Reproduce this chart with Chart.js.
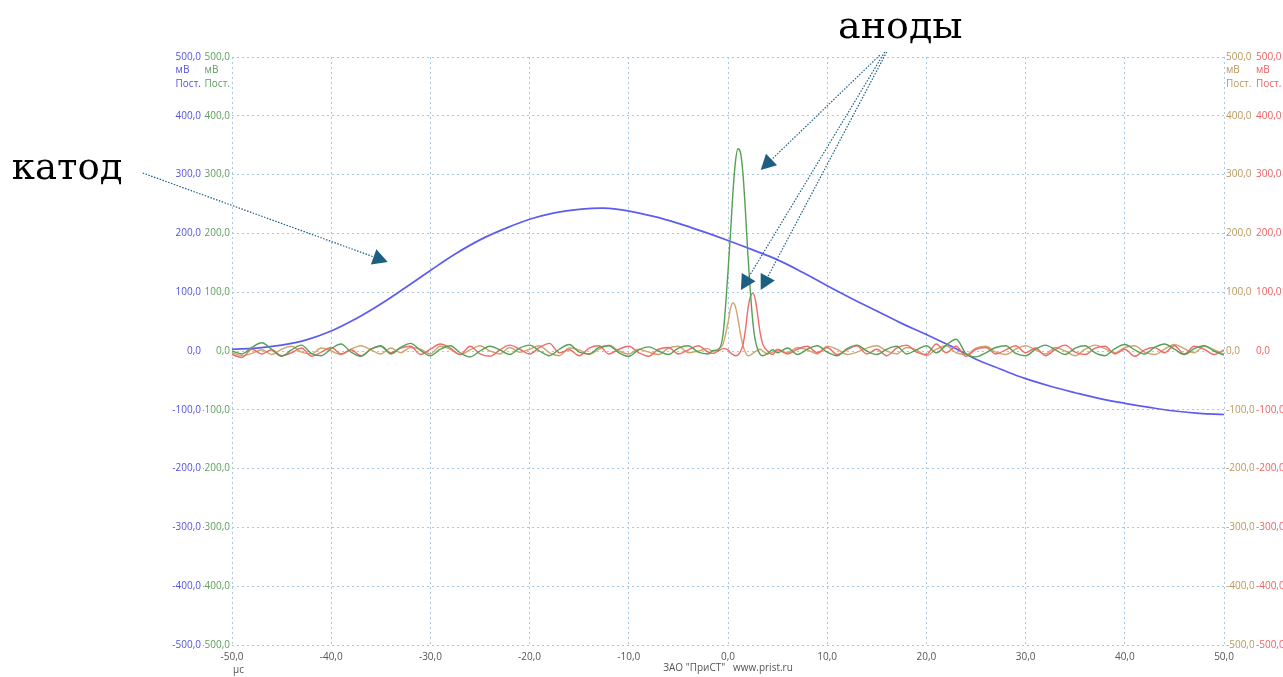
<!DOCTYPE html>
<html>
<head>
<meta charset="utf-8">
<script src="https://cdn.jsdelivr.net/npm/chart.js@4.4.1/dist/chart.umd.min.js"></script>
<style>
  html, body { margin: 0; padding: 0; background: #fff; }
  #wrap { width: 1283px; height: 677px; }
</style>
</head>
<body>
<div id="wrap"><canvas id="scope"></canvas></div>
<script>
// sample times, μs (denser around the anode pulses)
const time = [
  -50, -49, -48, -47, -46, -45, -44, -43, -42, -41,
  -40, -39, -38, -37, -36, -35, -34, -33, -32, -31,
  -30, -29, -28, -27, -26, -25, -24, -23, -22, -21,
  -20, -19, -18, -17, -16, -15, -14, -13, -12, -11,
  -10, -9, -8, -7, -6, -5, -4, -3, -2,
  -1.5, -1, -0.5, 0, 0.25, 0.5, 0.75, 1, 1.25, 1.5, 1.75, 2, 2.25, 2.5, 2.75, 3, 3.25, 3.5, 4, 4.5, 5,
  6, 7, 8, 9, 10, 11, 12, 13, 14, 15,
  16, 17, 18, 19, 20, 21, 22, 23, 24, 25,
  26, 27, 28, 29, 30, 31, 32, 33, 34, 35,
  36, 37, 38, 39, 40, 41, 42, 43, 44, 45,
  46, 47, 48, 49, 50
];

// anode 1 (green, left inner axis), mV
const anodeGreen = [
  0, -5, 6, 14, 3, -9, 2, 10, -4, -8,
  4, 12, -2, -9, 3, 8, -5, 6, 13, 1,
  -8, 3, 9, -3, -10, 0, 8, 2, -6, 5,
  10, 0, -8, 3, 11, -2, -5, 6, 9, -3,
  -9, 2, 7, 0, -6, 5, 9, -2, -5,
  1, 2, 28, 135, 200, 270, 322, 344, 338, 303, 240, 165, 102, 50, 18, 3, -6, -8, -4, 2, -3,
  5, -6, 3, 9, -2, -8, 4, 10, 0, -6,
  3, 8, -5, 2, 9, -3, 10, 20, -5, -10,
  -3, 6, 9, -4, -8, 3, 10, 2, -6, 5,
  9, -3, -8, 4, 11, 2, -5, 6, 12, 3,
  -6, 4, 9, 0, -7
];

// anode 2 (tan, right inner axis), mV
const anodeTan = [
  -3, -8, -4, 2, -6, 3, 8, -2, -5, 5,
  0, -6, 3, 9, 2, -5, 5, -3, 6, 3,
  -5, 8, 3, -6, 2, 9, 0, -5, 6, -2,
  3, 9, -3, -8, 5, 2, -6, 3, 10, 0,
  -5, 3, -2, -6, 5, 8, -3, 0, 4,
  -1, 3, 12, 48, 72, 82, 75, 55, 30, 10, -2, -8, -7, -4, -1, 2, 3, 0, -5, -2, 3,
  -3, 6, 2, -5, 8, 3, -6, -2, 5, 9,
  0, -5, 6, 2, -8, 3, 9, -3, -6, 5,
  8, -2, -6, 3, 9, 2, -5, 6, 0, -8,
  3, 10, 4, -3, 6, 9, -2, -6, 3, 11,
  4, -3, 8, 2, -5
];

// anode 3 (red, right outer axis), mV
const anodeRed = [
  -6, -11, 3, -5, 2, -8, -3, 5, -9, -2,
  6, -5, 2, -8, 3, 9, -3, 5, 8, -6,
  3, 12, 5, -6, 8, -5, -9, 2, 10, 3,
  -5, 6, 13, -3, 2, -8, 5, 9, -5, 3,
  8, -3, -9, 3, 6, -5, 2, 9, -2,
  -4, 0, 4, 2, -3, -6, -8, -7, -1, 10, 35, 70, 92, 98, 88, 60, 30, 12, 0, -6, 2,
  -5, 3, 8, -3, 6, -6, 2, 9, -5, 3,
  -8, 5, 10, -2, -6, 12, -3, 8, -9, 3,
  6, -5, 2, 9, -3, 5, -8, 3, 10, -2,
  -6, 5, 8, -5, 3, -9, 2, 6, -3, 9,
  -5, 8, 3, -6, 2
];

// cathode (blue, left outer axis), sampled every 2.5 μs
const cathodeTime = [
  -50, -47.5, -45, -42.5, -40, -37.5, -35, -32.5, -30, -27.5,
  -25, -22.5, -20, -17.5, -15, -12.5, -10, -7.5, -5, -2.5,
  0, 2.5, 5, 7.5, 10, 12.5, 15, 17.5, 20, 22.5,
  25, 27.5, 30, 32.5, 35, 37.5, 40, 42.5, 45, 47.5, 50
];
const cathode = [
  3, 5, 10, 19, 34, 55, 80, 108, 137, 165,
  189, 208, 224, 235, 241, 243, 238, 229, 217, 203,
  188, 172, 155, 134, 111, 89, 68, 47, 28, 8,
  -14, -31, -47, -60, -71, -81, -89, -96, -102, -106, -108
];

const yTicks = [-500, -400, -300, -200, -100, 0, 100, 200, 300, 400, 500];
const xTicks = [-50, -40, -30, -20, -10, 0, 10, 20, 30, 40, 50];
const unitLines = ['мВ', 'Пост.'];
const timeUnit = 'μс';
const footer = 'ЗАО "ПриСТ"   www.prist.ru';

const FONT = '"Open Sans", "DejaVu Sans", sans-serif';
const GRID = '#a8c8e2';
const DASH = [2, 3];
const colors = {
  blue:  { line: '#5c5cf0', text: '#5252e0' },
  green: { line: '#55a055', text: '#5b9e5b' },
  tan:   { line: '#cfa56e', text: '#b9975c' },
  red:   { line: '#f06a6a', text: '#ee6262' }
};

const fmt = v => Number(v).toFixed(1).replace('.', ',');
const pts = (xs, ys) => xs.map((t, i) => ({ x: t, y: ys[i] }));

function yAxis(key, position, weight, width, showGrid) {
  return {
    type: 'linear',
    position: position,
    weight: weight,
    min: -500,
    max: 500,
    afterBuildTicks: s => { s.ticks = yTicks.map(v => ({ value: v })); },
    afterFit: s => { s.width = width; },
    border: { display: false, dash: DASH },
    grid: {
      display: showGrid,
      drawTicks: false,
      color: GRID,
      lineWidth: 1
    },
    ticks: {
      padding: 2,
      color: colors[key].text,
      font: { family: FONT, size: 10 },
      callback: fmt
    }
  };
}

// dotted arrow with a filled head
function drawArrow(ctx, x0, y0, x1, y1) {
  const dx = x1 - x0, dy = y1 - y0;
  const len = Math.hypot(dx, dy);
  const ux = dx / len, uy = dy / len;
  const head = 15, half = 8;
  const bx = x1 - ux * head, by = y1 - uy * head;
  ctx.setLineDash([1.5, 1.5]);
  ctx.lineWidth = 1.2;
  ctx.beginPath();
  ctx.moveTo(x0, y0);
  ctx.lineTo(bx, by);
  ctx.stroke();
  ctx.setLineDash([]);
  ctx.beginPath();
  ctx.moveTo(x1, y1);
  ctx.lineTo(bx - uy * half, by + ux * half);
  ctx.lineTo(bx + uy * half, by - ux * half);
  ctx.closePath();
  ctx.fill();
}

// units, captions and arrows, anchored in axis units
const callouts = {
  id: 'callouts',
  afterDraw(chart) {
    const ctx = chart.ctx;
    const sx = chart.scales.x, sy = chart.scales.yBlue;
    const px = v => sx.getPixelForValue(v);
    const py = v => sy.getPixelForValue(v);
    ctx.save();

    // units under the top tick of every vertical axis
    ctx.font = '10px ' + FONT;
    ctx.textBaseline = 'middle';
    ctx.textAlign = 'left';
    const topY = py(500);
    const w500 = ctx.measureText(fmt(500)).width;
    [['yBlue', 'blue'], ['yGreen', 'green'], ['yTan', 'tan'], ['yRed', 'red']].forEach(([id, key]) => {
      const s = chart.scales[id];
      const x0 = s.position === 'left' ? s.right - 2 - w500 : s.left + 2;
      ctx.fillStyle = colors[key].text;
      unitLines.forEach((t, i) => ctx.fillText(t, x0, topY + 13.5 * (i + 1)));
    });

    // time unit under the first x label
    ctx.fillStyle = '#555';
    ctx.fillText(timeUnit, px(-50) + 1, 670);

    ctx.fillStyle = '#000';
    ctx.textBaseline = 'alphabetic';
    ctx.font = '37px "DejaVu Serif", serif';
    ctx.fillText('катод', px(-72.2), py(292.5));
    ctx.font = '38px "DejaVu Serif", serif';
    ctx.fillText('аноды', px(11.1), py(533));

    ctx.strokeStyle = '#1d5f80';
    ctx.fillStyle = '#1d5f80';
    drawArrow(ctx, px(-59), py(302.7), px(-34.3), py(151.4));
    drawArrow(ctx, px(15.3), py(503), px(3.3), py(307.8));
    drawArrow(ctx, px(15.8), py(508.5), px(1.3), py(103.7));
    drawArrow(ctx, px(16.0), py(508.5), px(3.3), py(103.7));
    ctx.restore();
  }
};

const lineSet = (label, data, color, axis, width, smooth) => Object.assign({
  label: label,
  data: data,
  yAxisID: axis,
  borderColor: color,
  borderWidth: width,
  pointRadius: 0,
  fill: false
}, smooth);

new Chart(document.getElementById('scope'), {
  type: 'line',
  data: {
    datasets: [
      lineSet('анод 1', pts(time, anodeGreen), colors.green.line, 'yGreen', 1.4, { cubicInterpolationMode: 'monotone' }),
      lineSet('анод 3', pts(time, anodeRed), colors.red.line, 'yRed', 1.4, { cubicInterpolationMode: 'monotone' }),
      lineSet('анод 2', pts(time, anodeTan), colors.tan.line, 'yTan', 1.4, { cubicInterpolationMode: 'monotone' }),
      lineSet('катод', pts(cathodeTime, cathode), colors.blue.line, 'yBlue', 1.7, { tension: 0.4 })
    ]
  },
  options: {
    responsive: true,
    maintainAspectRatio: false,
    animation: false,
    layout: { padding: { left: 172, right: 0, top: 57, bottom: 0 } },
    plugins: {
      legend: { display: false },
      tooltip: { enabled: false }
    },
    scales: {
      x: {
        type: 'linear',
        min: -50,
        max: 50,
        afterBuildTicks: s => { s.ticks = xTicks.map(v => ({ value: v })); },
        afterFit: s => { s.height = 32; },
        border: { display: false, dash: DASH },
        grid: { drawTicks: false, color: GRID, lineWidth: 1 },
        ticks: {
          padding: 6,
          color: '#555',
          font: { family: FONT, size: 10 },
          maxRotation: 0,
          callback: fmt
        },
        title: {
          display: true,
          text: footer,
          color: '#555',
          font: { family: FONT, size: 10 },
          padding: { top: 0, bottom: 3 }
        }
      },
      yBlue: yAxis('blue', 'left', 2, 31, false),
      yGreen: yAxis('green', 'left', 1, 29, true),
      yTan: yAxis('tan', 'right', 1, 30, false),
      yRed: yAxis('red', 'right', 2, 29, false)
    }
  },
  plugins: [callouts]
});
</script>
</body>
</html>
